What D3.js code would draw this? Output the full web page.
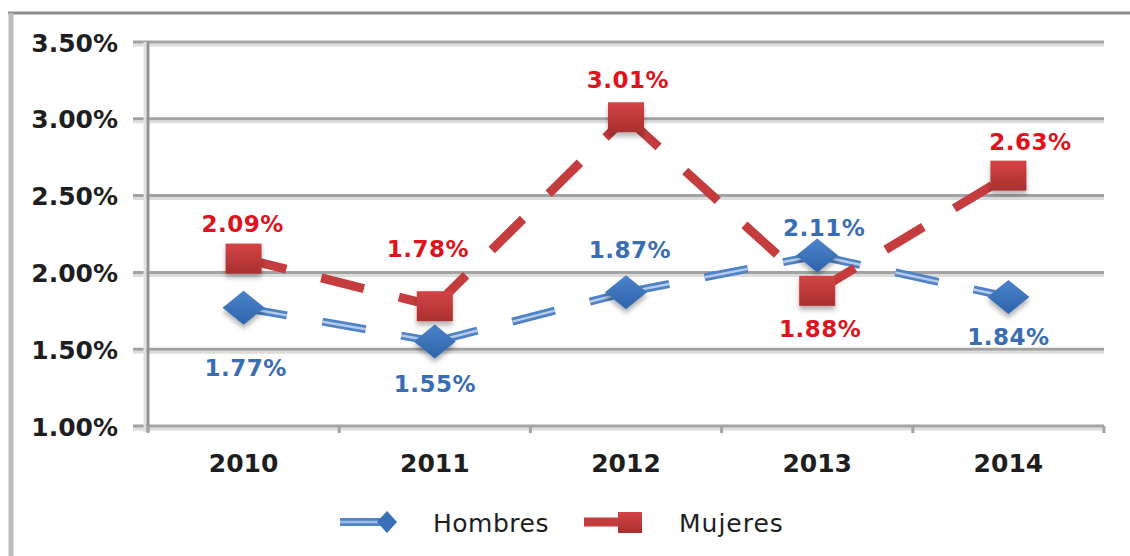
<!DOCTYPE html>
<html>
<head>
<meta charset="utf-8">
<script src="https://cdn.jsdelivr.net/npm/d3@7"></script>
<style>
  body { margin: 0; background: #fff; }
  text { font-family: "DejaVu Sans", Verdana, sans-serif; }
</style>
</head>
<body>
<div class="chart"></div>
<script>
// datos
var years = ["2010", "2011", "2012", "2013", "2014"];
var hombres = [1.77, 1.55, 1.87, 2.11, 1.84];
var mujeres = [2.09, 1.78, 3.01, 1.88, 2.63];
var yTicks = [1.0, 1.5, 2.0, 2.5, 3.0, 3.5];
var seriesNames = ["Hombres", "Mujeres"];

// donde va cada etiqueta respecto al punto [dx, dy]
var hombresLabelOff = [[2, 68], [0, 50], [4, -34], [7, -20], [0, 48]];
var mujeresLabelOff = [[-1, -27], [-7, -49], [2, -29], [3, 46], [22, -26]];

var W = 1130, H = 556;
var plotL = 148, plotR = 1104, plotT = 42, plotB = 426;

var svg = d3.select(".chart").append("svg").attr("width", W).attr("height", H);

var defs = svg.append("defs");
var sh = defs.append("filter").attr("id", "shadow").attr("x", "-30%").attr("y", "-30%").attr("width", "160%").attr("height", "170%");
sh.append("feDropShadow").attr("dx", 0).attr("dy", 4).attr("stdDeviation", 2.5)
  .attr("flood-color", "#000").attr("flood-opacity", 0.3);

var gRed = defs.append("linearGradient").attr("id", "gRed").attr("x1", 0).attr("y1", 0).attr("x2", 0).attr("y2", 1);
gRed.append("stop").attr("offset", "0%").attr("stop-color", "#d34446");
gRed.append("stop").attr("offset", "100%").attr("stop-color", "#a9302f");
var gBlue = defs.append("linearGradient").attr("id", "gBlue").attr("x1", 0).attr("y1", 0).attr("x2", 0).attr("y2", 1);
gBlue.append("stop").attr("offset", "0%").attr("stop-color", "#4a84cc");
gBlue.append("stop").attr("offset", "100%").attr("stop-color", "#2f63a9");

// marco exterior
svg.append("line").attr("x1", 8).attr("x2", W).attr("y1", 13).attr("y2", 13)
  .attr("stroke", "#8c8c8c").attr("stroke-width", 3);
svg.append("line").attr("x1", 11).attr("x2", 11).attr("y1", 13).attr("y2", H)
  .attr("stroke", "#bcbcbc").attr("stroke-width", 5);

var x = d3.scaleBand().domain(years).range([plotL, plotR]);
var y = d3.scaleLinear().domain([1, 3.5]).range([plotB, plotT]);
var cx = function(i) { return x(years[i]) + x.bandwidth() / 2; };

// lineas de cuadricula
var grid = svg.append("g");
yTicks.forEach(function(t) {
  grid.append("line").attr("x1", 133).attr("x2", plotR).attr("y1", y(t) + 3).attr("y2", y(t) + 3)
    .attr("stroke", "#dcdcdc").attr("stroke-width", 3);
  grid.append("line").attr("x1", 133).attr("x2", plotR).attr("y1", y(t)).attr("y2", y(t))
    .attr("stroke", "#a2a2a2").attr("stroke-width", 3);
});

// eje y
var yAxis = svg.append("g").attr("transform", "translate(" + plotL + ",0)")
  .call(d3.axisLeft(y).tickValues(yTicks).tickSize(0).tickPadding(30)
    .tickFormat(function(d) { return d.toFixed(2) + "%"; }));
yAxis.select(".domain").remove();
yAxis.selectAll("text").attr("font-size", 25).attr("font-weight", "bold").attr("fill", "#1e1e1e")
  .attr("font-family", "DejaVu Sans").attr("dy", "0.36em");
svg.append("line").attr("x1", plotL - 3).attr("x2", plotL - 3).attr("y1", plotT).attr("y2", plotB + 6)
  .attr("stroke", "#e2e2e2").attr("stroke-width", 3);
svg.append("line").attr("x1", plotL).attr("x2", plotL).attr("y1", plotT).attr("y2", plotB + 6)
  .attr("stroke", "#939393").attr("stroke-width", 3);

// eje x
var xAxis = svg.append("g").attr("transform", "translate(0," + plotB + ")")
  .call(d3.axisBottom(x).tickSize(0).tickPadding(28));
xAxis.select(".domain").remove();
xAxis.selectAll("text").attr("font-size", 25).attr("font-weight", "bold").attr("fill", "#1e1e1e")
  .attr("font-family", "DejaVu Sans");
d3.range(years.length + 1).forEach(function(i) {
  var xx = plotL + i * x.step();
  svg.append("line").attr("x1", xx).attr("x2", xx).attr("y1", plotB).attr("y2", plotB + 7)
    .attr("stroke", "#a2a2a2").attr("stroke-width", 3);
});

// lineas discontinuas, el patron vuelve a empezar en cada tramo
function drawSegments(vals, color, inner) {
  var g = svg.append("g");
  for (var i = 0; i < vals.length - 1; i++) {
    var seg = g.append("line")
      .attr("x1", cx(i)).attr("y1", y(vals[i]))
      .attr("x2", cx(i + 1)).attr("y2", y(vals[i + 1]));
    seg.attr("stroke", color).attr("stroke-width", inner ? 8 : 9)
      .attr("stroke-dasharray", "44,36").attr("stroke-linecap", "butt");
    if (inner) {
      g.append("line")
        .attr("x1", cx(i)).attr("y1", y(vals[i]))
        .attr("x2", cx(i + 1)).attr("y2", y(vals[i + 1]))
        .attr("stroke", inner).attr("stroke-width", 2.5)
        .attr("stroke-dasharray", "44,36");
    }
  }
}

var diamond = "M0,-17L21,0L0,17L-21,0Z";

drawSegments(hombres, "#4f82c6", "#b5cbea");
svg.append("g").selectAll("path").data(hombres).enter().append("path")
  .attr("d", diamond)
  .attr("transform", function(d, i) { return "translate(" + cx(i) + "," + y(d) + ")"; })
  .attr("fill", "url(#gBlue)").attr("filter", "url(#shadow)");

drawSegments(mujeres, "#c43c3d", null);
svg.append("g").selectAll("rect").data(mujeres).enter().append("rect")
  .attr("x", function(d, i) { return cx(i) - 18; })
  .attr("y", function(d) { return y(d) - 15; })
  .attr("width", 36).attr("height", 30)
  .attr("fill", "url(#gRed)").attr("filter", "url(#shadow)");

// etiquetas de datos
svg.append("g").selectAll("text").data(hombres).enter().append("text")
  .attr("x", function(d, i) { return cx(i) + hombresLabelOff[i][0]; })
  .attr("y", function(d, i) { return y(d) + hombresLabelOff[i][1]; })
  .attr("text-anchor", "middle").attr("font-size", 23).attr("font-weight", "bold")
  .attr("fill", "#3b6db4").attr("letter-spacing", 0.5)
  .text(function(d) { return d.toFixed(2) + "%"; });

svg.append("g").selectAll("text").data(mujeres).enter().append("text")
  .attr("x", function(d, i) { return cx(i) + mujeresLabelOff[i][0]; })
  .attr("y", function(d, i) { return y(d) + mujeresLabelOff[i][1]; })
  .attr("text-anchor", "middle").attr("font-size", 23).attr("font-weight", "bold")
  .attr("fill", "#e0121c").attr("letter-spacing", 0.5)
  .text(function(d) { return d.toFixed(2) + "%"; });

// leyenda
var leg = svg.append("g").attr("transform", "translate(0,522)");
leg.append("line").attr("x1", 340).attr("x2", 386).attr("y1", 0).attr("y2", 0)
  .attr("stroke", "#4f82c6").attr("stroke-width", 8);
leg.append("line").attr("x1", 340).attr("x2", 386).attr("y1", 0).attr("y2", 0)
  .attr("stroke", "#9dbbe4").attr("stroke-width", 2.5);
leg.append("path").attr("d", "M0,-11L10,0L0,11L-10,0Z").attr("transform", "translate(387,0)")
  .attr("fill", "#3a70b8");
leg.append("text").attr("x", 433).attr("y", 10).attr("font-size", 25).attr("letter-spacing", 0.5)
  .attr("fill", "#1e1e1e").text(seriesNames[0]);
leg.append("line").attr("x1", 584).attr("x2", 630).attr("y1", 0).attr("y2", 0)
  .attr("stroke", "#c43c3d").attr("stroke-width", 9);
leg.append("rect").attr("x", 618).attr("y", -10).attr("width", 24).attr("height", 21)
  .attr("fill", "url(#gRed)");
leg.append("text").attr("x", 679).attr("y", 10).attr("font-size", 25).attr("letter-spacing", 1)
  .attr("fill", "#1e1e1e").text(seriesNames[1]);
</script>
</body>
</html>
